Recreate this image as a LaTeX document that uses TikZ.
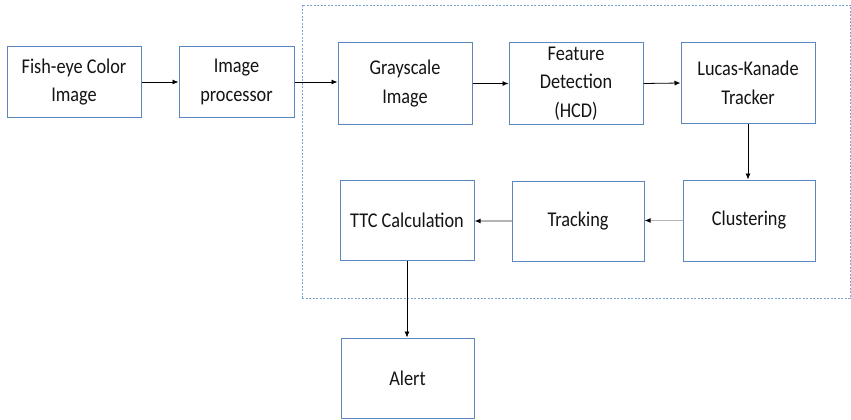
\documentclass[tikz,border=0pt]{standalone}
\usepackage{fontspec}
\setmainfont{Carlito}[FakeStretch=0.87]
\usetikzlibrary{arrows.meta}
\definecolor{boxblue}{HTML}{5B87BE}
\definecolor{dashblue}{HTML}{7FA6D2}
\definecolor{txt}{HTML}{141414}
\definecolor{lightline}{HTML}{B4B4B4}
\tikzset{
  blk/.style={draw=boxblue, line width=1pt, fill=white, align=center, text=txt,
    font=\fontsize{21}{28.5}\selectfont, inner sep=0pt},
  grp/.style={draw=dashblue, line width=0.9pt, dash pattern=on 2pt off 1.5pt, inner sep=0pt},
  conn/.style={line width=0.8pt, draw=black, -{Latex[length=6pt,width=5pt]}},
  conng/.style={line width=1.4pt, draw=lightline, -{Latex[length=6pt,width=5pt,fill=black,color=black]}}
}
\begin{document}
\begin{tikzpicture}[x=1pt,y=-1pt]
\useasboundingbox (0,0) rectangle (851,420);
\clip (0,0) rectangle (851,420);
\node[grp, minimum width=548pt, minimum height=293pt] (group) at (576,151.5) {};
\node[blk, minimum width=134pt, minimum height=70pt] (fish) at (74,82) {Fish-eye Color\\Image};
\node[blk, minimum width=115pt, minimum height=70pt] (proc) at (236.5,82) {Image\\processor};
\node[blk, minimum width=134pt, minimum height=81pt] (gray) at (405,83.5) {Grayscale\\Image};
\node[blk, minimum width=134pt, minimum height=81pt] (feat) at (576,83.5) {Feature\\Detection\\(HCD)};
\node[blk, minimum width=134pt, minimum height=80pt] (lk) at (748,83) {Lucas-Kanade\\Tracker};
\node[blk, minimum width=132pt, minimum height=81pt] (clus) at (749,220.5) {Clustering};
\node[blk, minimum width=132pt, minimum height=80pt] (track) at (578,221) {Tracking};
\node[blk, minimum width=134pt, minimum height=80pt] (ttc) at (407,220) {TTC Calculation};
\node[blk, minimum width=133pt, minimum height=80pt] (alert) at (407.5,378) {Alert};
\draw[conn] (fish.east) -- (proc.west);
\draw[conn] (proc.east) -- (gray.west |- proc.east);
\draw[conn] (gray.east) -- (feat.west);
\draw[conn] (feat.east) -- (lk.west);
\draw[conn] (lk.south) -- (lk.south |- clus.north);
\draw[conng] (clus.west) -- (track.east |- clus.west);
\draw[conng] (track.west) -- (ttc.east |- track.west);
\draw[conn] (ttc.south) -- (ttc.south |- alert.north);
\end{tikzpicture}
\end{document}
